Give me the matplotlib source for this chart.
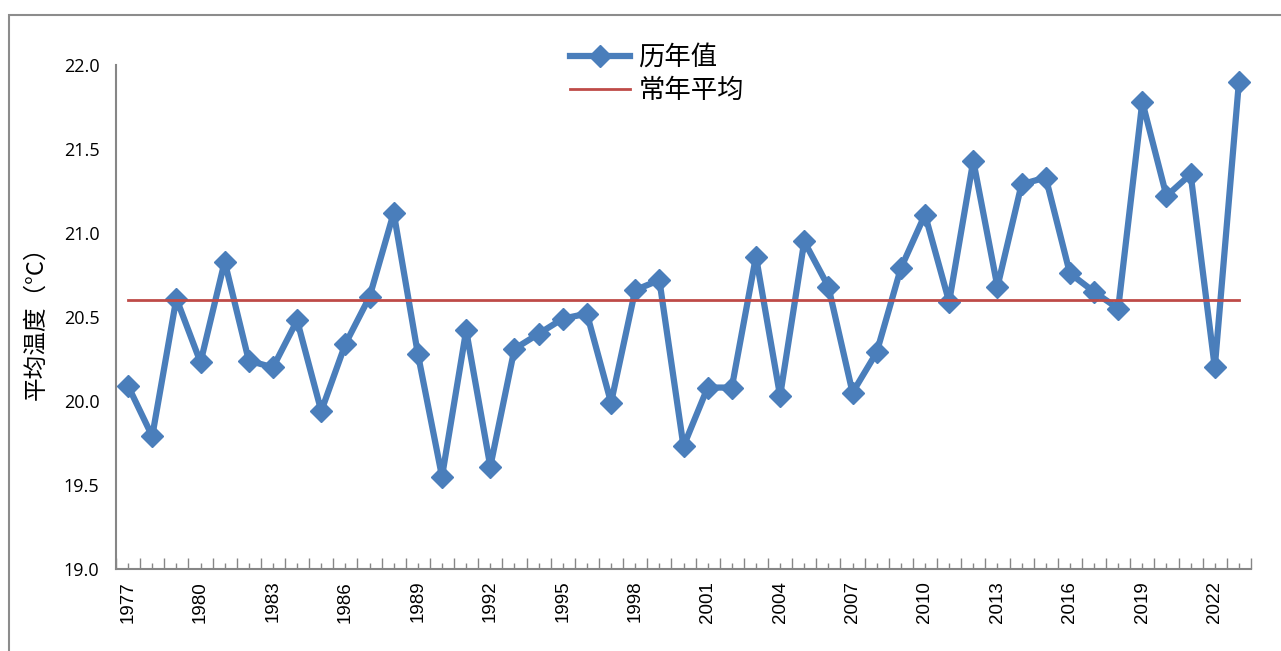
import matplotlib
matplotlib.use("Agg")
import matplotlib.pyplot as plt
from matplotlib.patches import Rectangle
from matplotlib.ticker import FixedLocator

plt.rcParams["font.family"] = ["Noto Sans CJK SC", "DejaVu Sans"]

# annual mean temperature (deg C)
years = list(range(1977, 2024))
temps = [
    20.09, 19.79, 20.61, 20.23, 20.83, 20.24, 20.20, 20.48, 19.94, 20.34,
    20.62, 21.12, 20.28, 19.55, 20.42, 19.61, 20.31, 20.40, 20.49, 20.52,
    19.99, 20.66, 20.72, 19.73, 20.08, 20.08, 20.86, 20.03, 20.95, 20.68,
    20.05, 20.29, 20.79, 21.11, 20.59, 21.43, 20.68, 21.29, 21.33, 20.76,
    20.65, 20.55, 21.78, 21.22, 21.35, 20.20, 21.90,
]
normal = 20.6
year_labels = [str(y) for y in years[::3]]
y_ticks = [19.0, 19.5, 20.0, 20.5, 21.0, 21.5, 22.0]

BLUE = "#4A7EBB"
RED = "#BE4B48"
GREY = "#868686"

fig = plt.figure(figsize=(12.81, 6.51), dpi=100)
ax = fig.add_axes([116 / 1281, 1 - 569 / 651, (1251 - 116) / 1281, (569 - 65) / 651])

# outer chart frame (cut off at right and bottom like the screenshot)
fig.patches.append(Rectangle((9 / 1281, -0.1), 1.2, 1 - 15 / 651 + 0.1,
                             transform=fig.transFigure, fill=False,
                             edgecolor="#8C8C8C", linewidth=1.5))

x = list(range(len(years)))
ax.plot(x, temps, color=BLUE, linewidth=4.5, marker="D", markersize=11,
        label="历年值", solid_joinstyle="round")
ax.plot([x[0], x[-1]], [normal, normal], color=RED, linewidth=2, label="常年平均")

ax.set_xlim(-0.5, len(years) - 0.5)
ax.set_ylim(19.0, 22.0)
ax.set_yticks(y_ticks)
ax.set_yticklabels([f"{v:.1f}" for v in y_ticks], family="Open Sans", fontsize=13)
ax.tick_params(axis="y", length=0, pad=12)

# tall ticks between categories, short ticks at categories
ax.xaxis.set_major_locator(FixedLocator([i - 0.5 for i in range(len(years) + 1)]))
ax.xaxis.set_minor_locator(FixedLocator(x))
ax.set_xticklabels([])
ax.tick_params(axis="x", which="major", direction="in", length=8, width=1, color=GREY)
ax.tick_params(axis="x", which="minor", direction="in", length=4, width=1, color=GREY)
for i, lab in zip(x[::3], year_labels):
    ax.text(i, 18.93, lab, rotation=90, ha="center", va="top",
            family="Liberation Sans", fontsize=13.5)

for s in ["top", "right"]:
    ax.spines[s].set_visible(False)
for s in ["left", "bottom"]:
    ax.spines[s].set_color(GREY)
    ax.spines[s].set_linewidth(1.5)

ax.set_ylabel("平均温度（°C）", fontsize=17, labelpad=12)

ax.legend(loc="upper left", bbox_to_anchor=(546 / 1281, 1 - 20 / 651),
          bbox_transform=fig.transFigure, frameon=False,
          fontsize=19, handlelength=2.3, labelspacing=0.25, handletextpad=0.3)

fig.savefig("out.png", dpi=100)
